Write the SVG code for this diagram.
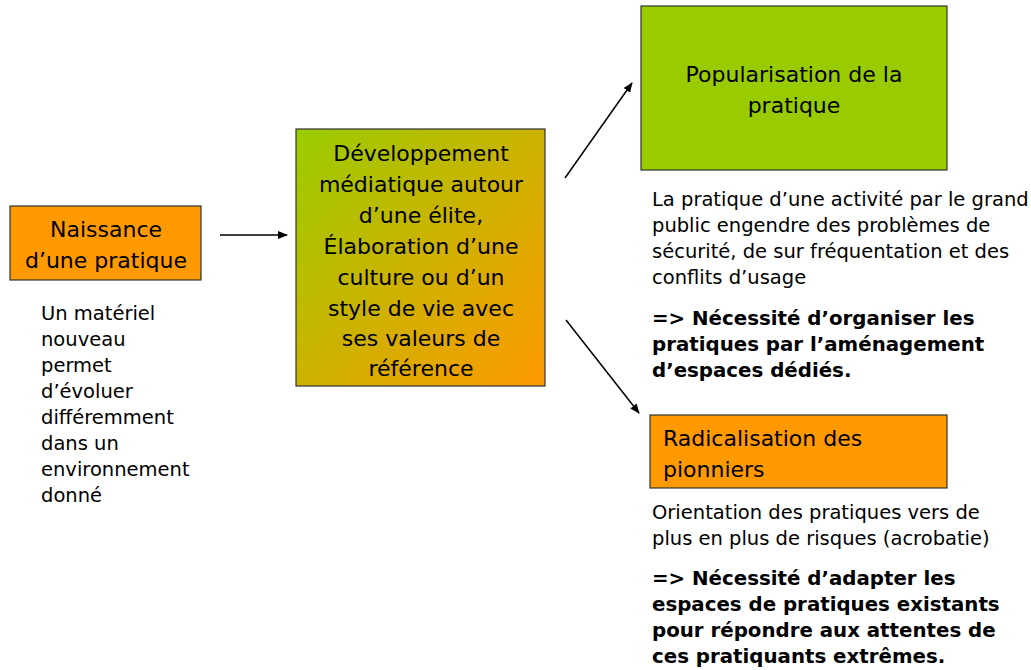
<svg xmlns="http://www.w3.org/2000/svg" width="1031" height="670" viewBox="0 0 1031 670">
<defs>
<linearGradient id="g1" x1="0" y1="0" x2="1" y2="1">
<stop offset="0" stop-color="#99CC00"/>
<stop offset="1" stop-color="#FF9900"/>
</linearGradient>
<marker id="ah" markerWidth="10" markerHeight="8" refX="9" refY="4" orient="auto" markerUnits="userSpaceOnUse">
<path d="M0,0 L10,4 L0,8 Z" fill="#000"/>
</marker>
<style>
text{font-family:"DejaVu Sans",sans-serif;fill:#000}
.box{stroke:#333;stroke-width:1.2}
.bt{font-size:22px}
.bd{font-size:19.5px}
.b{font-weight:bold;font-size:19.8px}
.c{text-anchor:middle}
.ln{stroke:#000;stroke-width:1.5;fill:none;marker-end:url(#ah)}
</style>
</defs>
<rect width="1031" height="670" fill="#fff"/>
<g id="naissance">
<rect class="box" x="10" y="206" width="191" height="74" fill="#FF9900"/>
<text class="bt c" x="106" y="237">Naissance</text>
<text class="bt c" x="106" y="268">d’une pratique</text>
<text class="bd" x="41"><tspan x="41" y="320">Un matériel</tspan><tspan x="41" y="346">nouveau</tspan><tspan x="41" y="372">permet</tspan><tspan x="41" y="398">d’évoluer</tspan><tspan x="41" y="424">différemment</tspan><tspan x="41" y="450">dans un</tspan><tspan x="41" y="476">environnement</tspan><tspan x="41" y="502">donné</tspan></text>
</g>
<g id="developpement">
<rect class="box" x="296" y="129" width="249" height="257" fill="url(#g1)"/>
<text class="bt c"><tspan x="421" y="161">Développement</tspan><tspan x="421" y="192">médiatique autour</tspan><tspan x="421" y="223">d’une élite,</tspan><tspan x="421" y="254">Élaboration d’une</tspan><tspan x="421" y="285">culture ou d’un</tspan><tspan x="421" y="316">style de vie avec</tspan><tspan x="421" y="346">ses valeurs de</tspan><tspan x="421" y="376">référence</tspan></text>
</g>
<g id="popularisation">
<rect class="box" x="641" y="6" width="306" height="164" fill="#99CC00"/>
<text class="bt c"><tspan x="794" y="82">Popularisation de la</tspan><tspan x="794" y="113">pratique</tspan></text>
<text class="bd"><tspan x="652" y="206">La pratique d’une activité par le grand</tspan><tspan x="652" y="232">public engendre des problèmes de</tspan><tspan x="652" y="258">sécurité, de sur fréquentation et des</tspan><tspan x="652" y="284">conflits d’usage</tspan></text>
<text class="b"><tspan x="652" y="325">=&gt; Nécessité d’organiser les</tspan><tspan x="652" y="351">pratiques par l’aménagement</tspan><tspan x="652" y="377">d’espaces dédiés.</tspan></text>
</g>
<g id="radicalisation">
<rect class="box" x="650" y="415" width="297" height="73" fill="#FF9900"/>
<text class="bt"><tspan x="663" y="446">Radicalisation des</tspan><tspan x="663" y="477">pionniers</tspan></text>
<text class="bd"><tspan x="652" y="519">Orientation des pratiques vers de</tspan><tspan x="652" y="545">plus en plus de risques (acrobatie)</tspan></text>
<text class="b"><tspan x="652" y="585">=&gt; Nécessité d’adapter les</tspan><tspan x="652" y="611">espaces de pratiques existants</tspan><tspan x="652" y="637">pour répondre aux attentes de</tspan><tspan x="652" y="663">ces pratiquants extrêmes.</tspan></text>
</g>
<g id="connectors">
<line class="ln" x1="220" y1="235" x2="287" y2="235"/>
<line class="ln" x1="565" y1="178" x2="632" y2="83"/>
<line class="ln" x1="566" y1="320" x2="639" y2="413"/>
</g>
</svg>
